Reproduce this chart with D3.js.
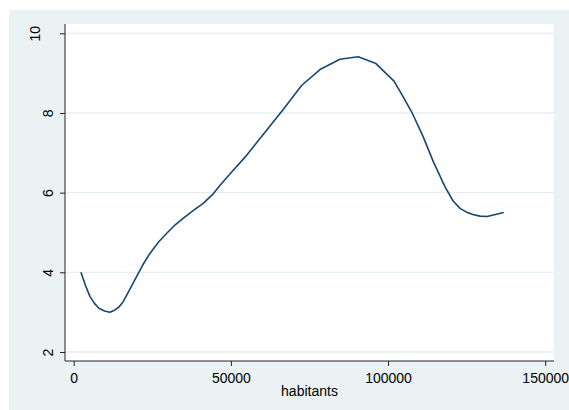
<!DOCTYPE html>
<html>
<head>
<meta charset="utf-8">
<script src="https://cdn.jsdelivr.net/npm/d3@7"></script>
<style>
  html, body { margin: 0; padding: 0; background: #ffffff; }
  svg { display: block; }
  text { font-family: Arial, "Liberation Sans", sans-serif; fill: #000; }
</style>
</head>
<body>
<script>
// Smoothed curve: habitants on x, fitted value on y
const habitants = [2300, 3700, 5200, 6600, 8000, 9800, 11500, 13000, 14400, 15800,
                   17500, 20000, 22000, 24300, 27000, 29600, 32000, 34900, 38000,
                   41200, 44400, 46500, 49700, 54950, 60800, 66650, 72500, 78350,
                   84700, 90500, 96150, 101900, 104500, 107500, 111200, 114400,
                   118100, 120700, 123000, 125000, 127000, 129200, 131500, 133500,
                   136800];
const fitted = [4.00, 3.68, 3.39, 3.22, 3.10, 3.03, 3.00, 3.05, 3.13, 3.27,
                3.52, 3.89, 4.19, 4.48, 4.76, 4.98, 5.17, 5.36, 5.55,
                5.73, 5.97, 6.18, 6.47, 6.93, 7.51, 8.09, 8.69, 9.09,
                9.35, 9.41, 9.24, 8.80, 8.45, 8.03, 7.40, 6.78,
                6.15, 5.79, 5.60, 5.51, 5.45, 5.41, 5.40, 5.44,
                5.50];
const xTicks = [0, 50000, 100000, 150000];
const yTicks = [2, 4, 6, 8, 10];
const xTitle = "habitants";

const W = 569, H = 410;
const svg = d3.select("body").append("svg").attr("width", W).attr("height", H);

// graph region and plot region
svg.append("rect").attr("x", 9).attr("y", 10).attr("width", W - 9).attr("height", H - 10)
  .attr("fill", "#eaf2f3");
const plot = { left: 65, top: 24, right: 554, bottom: 361 };
svg.append("rect").attr("x", plot.left).attr("y", plot.top)
  .attr("width", plot.right - plot.left).attr("height", plot.bottom - plot.top)
  .attr("fill", "#ffffff");

const x = d3.scaleLinear().domain([0, 150000]).range([73.7, 545.2]);
const y = d3.scaleLinear().domain([2, 10]).range([352, 33.3]);

// horizontal grid lines
svg.append("g").selectAll("line").data(yTicks).join("line")
  .attr("x1", plot.left).attr("x2", plot.right)
  .attr("y1", d => y(d)).attr("y2", d => y(d))
  .attr("stroke", "#e6eff0").attr("stroke-width", 1.3);

// y axis
const yAxis = svg.append("g").attr("transform", `translate(${plot.left},0)`)
  .call(d3.axisLeft(y).tickValues(yTicks).tickSize(5).tickSizeOuter(0).tickFormat(d3.format("d")));
yAxis.select(".domain").attr("d", `M0,${plot.top}V${plot.bottom}`).attr("stroke", "#222");
yAxis.selectAll(".tick line").attr("stroke", "#222");
yAxis.selectAll(".tick text")
  .attr("font-size", 14)
  .attr("text-anchor", "middle")
  .attr("dy", 0)
  .each(function () {
    const w = this.getComputedTextLength();
    const cx = 61.5 - 1.733 * w - plot.left;   // centre of rotated label
    d3.select(this).attr("x", null)
      .attr("transform", `translate(${cx + 5},0) rotate(-90)`);
  });

// x axis
const xAxis = svg.append("g").attr("transform", `translate(0,${plot.bottom})`)
  .call(d3.axisBottom(x).tickValues(xTicks).tickSize(5).tickSizeOuter(0).tickFormat(d3.format("d")));
xAxis.select(".domain").attr("d", `M${plot.left},0H${plot.right}`).attr("stroke", "#222");
xAxis.selectAll(".tick line").attr("stroke", "#222");
xAxis.selectAll(".tick text").attr("font-size", 14).attr("y", 0).attr("dy", 21.5);

svg.append("text").attr("x", (plot.left + plot.right) / 2).attr("y", 395.5)
  .attr("text-anchor", "middle").attr("font-size", 14).text(xTitle);

// fitted line
const pts = habitants.map((h, i) => [h, fitted[i]]);
svg.append("path").datum(pts)
  .attr("fill", "none").attr("stroke", "#1a476f").attr("stroke-width", 1.6)
  .attr("stroke-linejoin", "round")
  .attr("d", d3.line().x(d => x(d[0])).y(d => y(d[1])).curve(d3.curveLinear));
</script>
</body>
</html>
